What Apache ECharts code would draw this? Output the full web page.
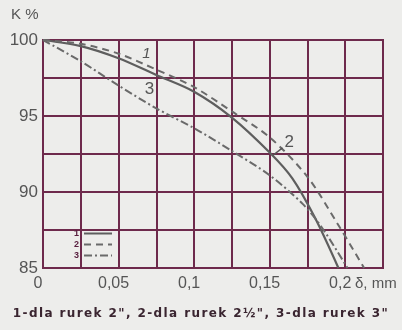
<!DOCTYPE html>
<html><head><meta charset="utf-8">
<script src="https://cdn.jsdelivr.net/npm/echarts@6/dist/echarts.min.js"></script>
<style>html,body{margin:0;padding:0;background:#ededeb;}#wrap{position:relative;width:402px;height:330px;}#c{width:402px;height:330px;}
#cap{position:absolute;left:0;top:306px;width:402px;text-align:center;font:bold 12px 'DejaVu Sans';letter-spacing:1.4px;color:#3a2530;white-space:nowrap;}</style>
</head><body><div id="wrap"><div id="c"></div><div id="cap"></div></div>
<script>
// Curve 1 (solid) – dla rurek 2"
var x1 = [0, 0.025, 0.05, 0.075, 0.1, 0.125, 0.15, 0.165, 0.18, 0.1955];
var y1 = [100, 99.6, 98.8, 97.7, 96.6, 94.9, 92.6, 90.9, 88.3, 85];
// Curve 2 (dashed) – dla rurek 2½"
var x2 = [0, 0.025, 0.05, 0.075, 0.1, 0.125, 0.15, 0.175, 0.195, 0.2125];
var y2 = [100, 99.75, 99.1, 98.05, 96.9, 95.3, 93.6, 91.0, 87.9, 85];
// Curve 3 (dash-dot) – dla rurek 3"
var x3 = [0, 0.025, 0.05, 0.075, 0.1, 0.125, 0.15, 0.172, 0.185, 0.2015];
var y3 = [100, 98.6, 97.0, 95.5, 94.2, 92.7, 91.1, 89.2, 87.6, 85];
var seriesNames = ['1', '2', '3'];
var xTickValues = [0, 0.05, 0.1, 0.15, 0.2];
var xTickLabels = ['0', '0,05', '0,1', '0,15', '0,2'];
var yTickValues = [85, 90, 95, 100];
var yTickLabels = ['85', '90', '95', '100'];
var caption = '1-dla rurek 2", 2-dla rurek 2½", 3-dla rurek 3"';
document.getElementById('cap').textContent = caption;

function pairs(xs, ys) { return xs.map(function (x, i) { return [x, ys[i]]; }); }
var grid = '#6e2a4c';
var chart = echarts.init(document.getElementById('c'));
chart.setOption({
  backgroundColor: '#ededeb',
  animation: false,
  grid: { left: 43, top: 40, right: 19, bottom: 62, show: true, borderColor: grid, borderWidth: 2 },
  xAxis: {
    type: 'value', min: 0, max: 0.225, interval: 0.025,
    axisLine: { show: true, lineStyle: { color: grid, width: 2 } },
    axisTick: { show: false },
    splitLine: { show: true, lineStyle: { color: grid, width: 2 } },
    axisLabel: {
      color: '#555', fontSize: 16, fontFamily: 'Liberation Sans', margin: 8, showMaxLabel: false,
      padding: [0, 10, 0, 0],
      formatter: function (v) {
        for (var i = 0; i < xTickValues.length; i++) if (Math.abs(v - xTickValues[i]) < 1e-6) return xTickLabels[i];
        return '';
      }
    }
  },
  yAxis: {
    type: 'value', min: 85, max: 100, interval: 2.5,
    axisLine: { show: true, lineStyle: { color: grid, width: 2 } },
    axisTick: { show: false },
    splitLine: { show: true, lineStyle: { color: grid, width: 2 } },
    axisLabel: {
      color: '#555', fontSize: 17, fontFamily: 'Liberation Sans', margin: 5,
      formatter: function (v) {
        for (var i = 0; i < yTickValues.length; i++) if (Math.abs(v - yTickValues[i]) < 1e-6) return yTickLabels[i];
        return '';
      }
    }
  },
  legend: {
    orient: 'vertical', left: 69, top: 224, align: 'right', itemGap: 2,
    itemWidth: 28, itemHeight: 9,
    itemStyle: { opacity: 0 },
    textStyle: { color: '#5a2040', fontSize: 9, fontWeight: 'bold', padding: [0, 0, 0, 0] },
    data: seriesNames
  },
  series: [
    { name: seriesNames[0], type: 'line', smooth: 0.3, symbol: 'none', data: pairs(x1, y1),
      lineStyle: { color: '#5e5e5e', width: 2.2, type: 'solid' }, itemStyle: { color: '#5e5e5e' },
      markPoint: { symbolSize: 0, data: [{ coord: [0.0685, 99.1], label: { show: true, formatter: '1', color: '#555', fontSize: 15, fontStyle: 'italic', fontFamily: 'Liberation Sans' } }] } },
    { name: seriesNames[1], type: 'line', smooth: 0.3, symbol: 'none', data: pairs(x2, y2),
      lineStyle: { color: '#6a6a6a', width: 2, type: [7, 5] }, itemStyle: { color: '#6a6a6a' },
      markPoint: { symbolSize: 0, data: [{ coord: [0.163, 93.3], label: { show: true, formatter: '2', color: '#555', fontSize: 17, fontFamily: 'Liberation Sans' } }] },
      markLine: { symbol: 'none', silent: true, label: { show: false },
        lineStyle: { color: '#555', width: 1.5, type: 'solid' },
        data: [[{ coord: [0.1585, 92.9] }, { coord: [0.152, 92.4] }]] } },
    { name: seriesNames[2], type: 'line', smooth: 0.3, symbol: 'none', data: pairs(x3, y3),
      lineStyle: { color: '#6a6a6a', width: 2, type: [8, 3, 2, 3] }, itemStyle: { color: '#6a6a6a' },
      markPoint: { symbolSize: 0, data: [{ coord: [0.0705, 96.75], label: { show: true, formatter: '3', color: '#555', fontSize: 17, fontFamily: 'Liberation Sans' } }] } }
  ],
  graphic: [
    { type: 'text', left: 11, top: 7, style: { text: 'K %', fill: '#555', font: '15px Liberation Sans' } },
    { type: 'text', left: 355, top: 276, style: { text: 'δ, mm', fill: '#555', font: '15px Liberation Sans' } }
  ]
});
</script></body></html>
